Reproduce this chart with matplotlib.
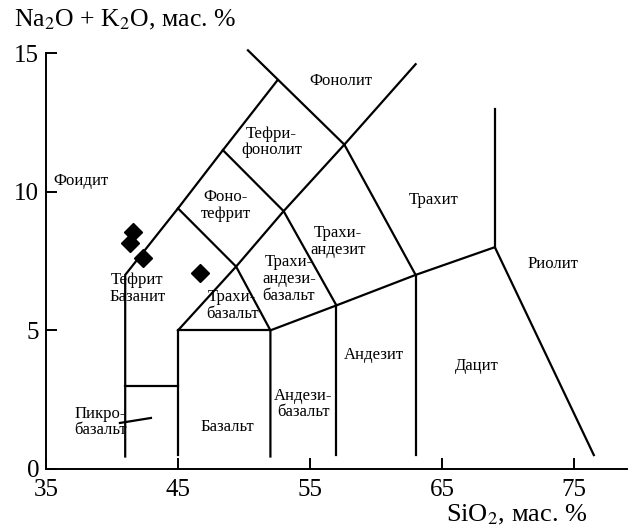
import matplotlib
matplotlib.use("Agg")
import matplotlib.pyplot as plt

plt.rcParams['font.family'] = ['Liberation Serif', 'DejaVu Serif']

# Field boundaries of the TAS diagram (SiO2, Na2O+K2O)
boundaries = [
    [(41, 0.45), (41, 7.0), (45, 9.4), (48.4, 11.5), (52.5, 14.0)],
    [(41, 3.0), (45, 3.0)],
    [(45, 0.5), (45, 5.0), (52, 5.0)],
    [(52, 0.45), (52, 5.0), (57, 5.9), (63, 7.0), (69, 8.0), (76.5, 0.5)],
    [(57, 0.5), (57, 5.9)],
    [(63, 0.5), (63, 7.0)],
    [(69, 8.0), (69, 13.0)],
    [(45, 5.0), (49.4, 7.3), (52, 5.0)],
    [(45, 9.4), (49.4, 7.3), (53, 9.3), (57.6, 11.7)],
    [(53, 9.3), (57, 5.9)],
    [(48.4, 11.5), (53, 9.3)],
    [(63, 7.0), (57.6, 11.7)],
    [(50.3, 15.1), (57.6, 11.7), (63, 14.6)],
    [(40.6, 1.66), (42.95, 1.84)],
]

# Samples
sio2 = [41.6, 41.4, 42.35, 46.7]
alk = [8.56, 8.16, 7.6, 7.08]

# Field names
labels = ["Фоидит", "Фонолит", "Тефри-\nфонолит", "Фоно-\nтефрит", "Трахит",
          "Трахи-\nандезит", "Трахи-\nандези-\nбазальт", "Тефрит\nБазанит",
          "Трахи-\nбазальт", "Риолит", "Дацит", "Андезит", "Андези-\nбазальт",
          "Базальт", "Пикро-\nбазальт"]
label_x = [37.65, 57.35, 52.1, 48.6, 64.4, 57.1, 53.4, 41.9, 49.1, 73.4, 67.65,
           59.8, 54.5, 48.7, 39.1]
label_y = [10.4, 14.0, 11.8, 9.5, 9.7, 8.2, 6.85, 6.5, 5.9, 7.4, 3.7, 4.1, 2.35,
           1.5, 1.7]

xticks = [35, 45, 55, 65, 75]
yticks = [0, 5, 10, 15]

fig = plt.figure(figsize=(6.3, 5.31), dpi=100)
ax = fig.add_axes([0.073, 0.1168, 0.922, 0.7832])
ax.set_xlim(35, 79)
ax.set_ylim(0, 15)

for seg in boundaries:
    xs = [p[0] for p in seg]
    ys = [p[1] for p in seg]
    ax.plot(xs, ys, color='black', lw=1.6, clip_on=False, solid_joinstyle='miter')

ax.plot(sio2, alk, linestyle='none', marker='D', ms=9.5, color='black', clip_on=False)

for t, x, y in zip(labels, label_x, label_y):
    ax.text(x, y, t, ha='center', va='center', fontsize=12, linespacing=1.05)

for s in ['top', 'right']:
    ax.spines[s].set_visible(False)
for s in ['left', 'bottom']:
    ax.spines[s].set_linewidth(1.4)

ax.set_xticks(xticks)
ax.set_yticks(yticks)
ax.tick_params(direction='in', length=8, width=1.4, labelsize=18)
ax.tick_params(axis='x', pad=7)
ax.tick_params(axis='y', pad=5)

fig.text(0.022, 0.962, "Na$_2$O + K$_2$O, мас. %", fontsize=18.5, ha='left', va='center',
         math_fontfamily='stix')
fig.text(0.932, 0.03, "SiO$_2$, мас. %", fontsize=19, ha='right', va='center',
         math_fontfamily='stix')

fig.savefig("out.png", dpi=100)
